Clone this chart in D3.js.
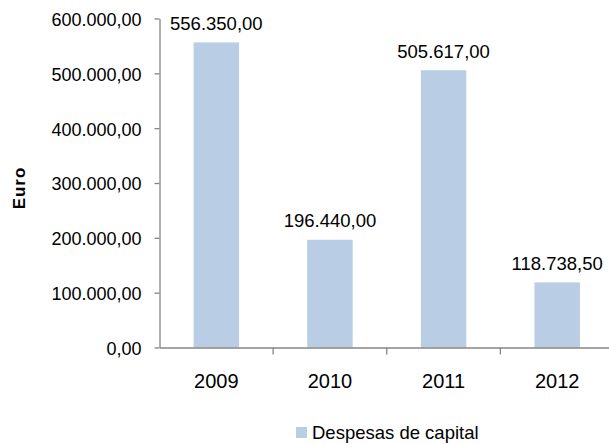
<!DOCTYPE html>
<html><head><meta charset="utf-8">
<script src="https://cdn.jsdelivr.net/npm/d3@7"></script>
<style>body{margin:0;background:#fff}svg{display:block}text{font-family:"Liberation Sans",Arial,sans-serif;fill:#000}</style>
</head><body>
<script>
const categories = ["2009","2010","2011","2012"];
const values = [556350.00, 196440.00, 505617.00, 118738.50];
const yTicks = [0,100000,200000,300000,400000,500000,600000];
const seriesName = "Despesas de capital";
const yTitle = "Euro";

const W=609,H=444;
const svg=d3.select("body").append("svg").attr("width",W).attr("height",H);
const fmt=v=>{const s=v.toFixed(2).split(".");return s[0].replace(/\B(?=(\d{3})+(?!\d))/g,".")+","+s[1];};

const x=d3.scaleBand().domain(categories).range([159.5,614]).padding(0);
const y=d3.scaleLinear().domain([0,600000]).range([347.5,18.5]);
const axisColor="#868686";
const barColor="#B9CDE5";

// bars
const bw=x.bandwidth()*0.4;
svg.selectAll("rect.bar").data(values).enter().append("rect")
  .attr("x",(d,i)=>x(categories[i])+x.bandwidth()/2-bw/2)
  .attr("y",d=>y(d)).attr("width",bw).attr("height",d=>y(0)-y(d))
  .attr("fill",barColor);

// value labels
svg.selectAll("text.val").data(values).enter().append("text")
  .attr("x",(d,i)=>x(categories[i])+x.bandwidth()/2)
  .attr("y",d=>y(d)-12.5).attr("text-anchor","middle")
  .style("font-size","18.5px").text(d=>fmt(d));

// y axis
const ya=svg.append("g").attr("transform","translate(159.5,0)")
  .call(d3.axisLeft(y).tickValues(yTicks).tickSize(5).tickSizeOuter(0).tickFormat(fmt));
ya.selectAll("path,line").attr("stroke",axisColor).attr("stroke-width",1.3);
ya.selectAll("text").style("font-size","18px").attr("x",-18).attr("dy","0.38em");

// x axis
const xa=svg.append("g").attr("transform","translate(0,347.5)")
  .call(d3.axisBottom(x).tickSize(0).tickSizeOuter(0));
xa.select("path").attr("stroke",axisColor).attr("stroke-width",1.3);
xa.selectAll("text").style("font-size","20px").attr("y",0).attr("dy","40px");
// category boundary ticks
xa.selectAll("line.sep").data(categories.slice(1)).enter().append("line")
  .attr("class","sep").attr("x1",d=>x(d)).attr("x2",d=>x(d)).attr("y1",0).attr("y2",7)
  .attr("stroke",axisColor).attr("stroke-width",1.3);

// y title
svg.append("text").attr("transform","translate(24.5,188) rotate(-90)")
  .attr("text-anchor","middle").style("font-size","17px").style("font-weight","bold")
  .style("letter-spacing","1px").text(yTitle);

// legend
svg.append("rect").attr("x",296).attr("y",427).attr("width",11).attr("height",11).attr("fill",barColor);
svg.append("text").attr("x",312).attr("y",438.5).style("font-size","18.5px").text(seriesName);
</script>
</body></html>
